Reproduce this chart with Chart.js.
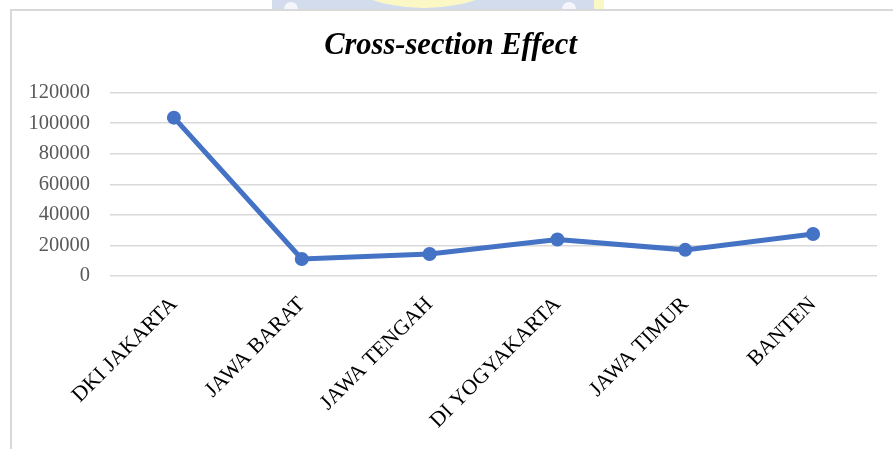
<!DOCTYPE html>
<html>
<head>
<meta charset="utf-8">
<script src="https://cdn.jsdelivr.net/npm/chart.js@4.4.1/dist/chart.umd.min.js"></script>
<style>
  html, body { margin: 0; padding: 0; background: #ffffff; }
  #wrap { position: relative; width: 893px; height: 449px; }
</style>
</head>
<body>
<div id="wrap"><canvas id="chart" width="893" height="449"></canvas></div>
<script>
// Provinces along the x axis
const provinces = ['DKI JAKARTA', 'JAWA BARAT', 'JAWA TENGAH', 'DI YOGYAKARTA', 'JAWA TIMUR', 'BANTEN'];
// Cross-section effect per province
const effectValues = [103600, 11100, 14400, 23900, 17100, 27500];
// Value axis ticks
const yTicks = [0, 20000, 40000, 60000, 80000, 100000, 120000];

const serif = "'Liberation Serif', 'DejaVu Serif', serif";

// Page decoration behind the chart: faint emblem strip and the chart frame
const framePlugin = {
  id: 'frame',
  beforeDraw(chart) {
    const ctx = chart.ctx;
    ctx.save();
    ctx.fillStyle = '#ffffff';
    ctx.fillRect(0, 0, chart.width, chart.height);
    // faint emblem peeking above the frame
    ctx.fillStyle = '#d3dcec';
    ctx.fillRect(272, 0, 322, 9);
    ctx.fillStyle = '#fcf8c6';
    ctx.beginPath();
    ctx.ellipse(424, -30, 84, 38, 0, 0, Math.PI * 2);
    ctx.fill();
    ctx.fillRect(594, 0, 10, 9);
    ctx.fillStyle = '#f4f6fb';
    ctx.beginPath();
    ctx.arc(291, 9, 7, Math.PI, 0);
    ctx.fill();
    ctx.beginPath();
    ctx.arc(569, 9, 7, Math.PI, 0);
    ctx.fill();
    // frame
    ctx.strokeStyle = '#d9d9d9';
    ctx.lineWidth = 2;
    ctx.strokeRect(11, 10, 1200, 1200);
    ctx.restore();
  }
};

new Chart(document.getElementById('chart'), {
  type: 'line',
  data: {
    labels: provinces,
    datasets: [{
      label: 'Cross-section Effect',
      data: effectValues,
      borderColor: '#4472C4',
      backgroundColor: '#4472C4',
      borderWidth: 5,
      pointRadius: 7,
      pointHoverRadius: 7,
      pointBackgroundColor: '#4472C4',
      pointBorderWidth: 0,
      tension: 0,
      fill: false
    }]
  },
  options: {
    responsive: false,
    animation: false,
    devicePixelRatio: 1,
    layout: { padding: { left: 24, right: 16, top: 0, bottom: 0 } },
    plugins: {
      legend: { display: false },
      tooltip: { enabled: false },
      title: {
        display: true,
        text: 'Cross-section Effect',
        color: '#000000',
        font: { family: serif, size: 30.5, style: 'italic', weight: 'bold' },
        padding: { top: 28, bottom: 28 }
      }
    },
    scales: {
      x: {
        offset: true,
        grid: { display: false, drawTicks: false },
        border: { display: false },
        ticks: {
          color: '#000000',
          font: { family: serif, size: 21.5 },
          autoSkip: false,
          maxRotation: 45,
          minRotation: 45,
          padding: 16
        },
        afterFit(scale) { scale.height = 173; }
      },
      y: {
        min: 0,
        max: 120000,
        afterBuildTicks(scale) { scale.ticks = yTicks.map(v => ({ value: v })); },
        grid: { color: '#d9d9d9', lineWidth: 1.5, drawTicks: false },
        border: { display: false },
        ticks: {
          color: '#595959',
          font: { family: serif, size: 20.5 },
          padding: 20,
          callback: v => String(v)
        },
        afterFit(scale) { scale.width = 86; }
      }
    }
  },
  plugins: [framePlugin]
});
</script>
</body>
</html>
